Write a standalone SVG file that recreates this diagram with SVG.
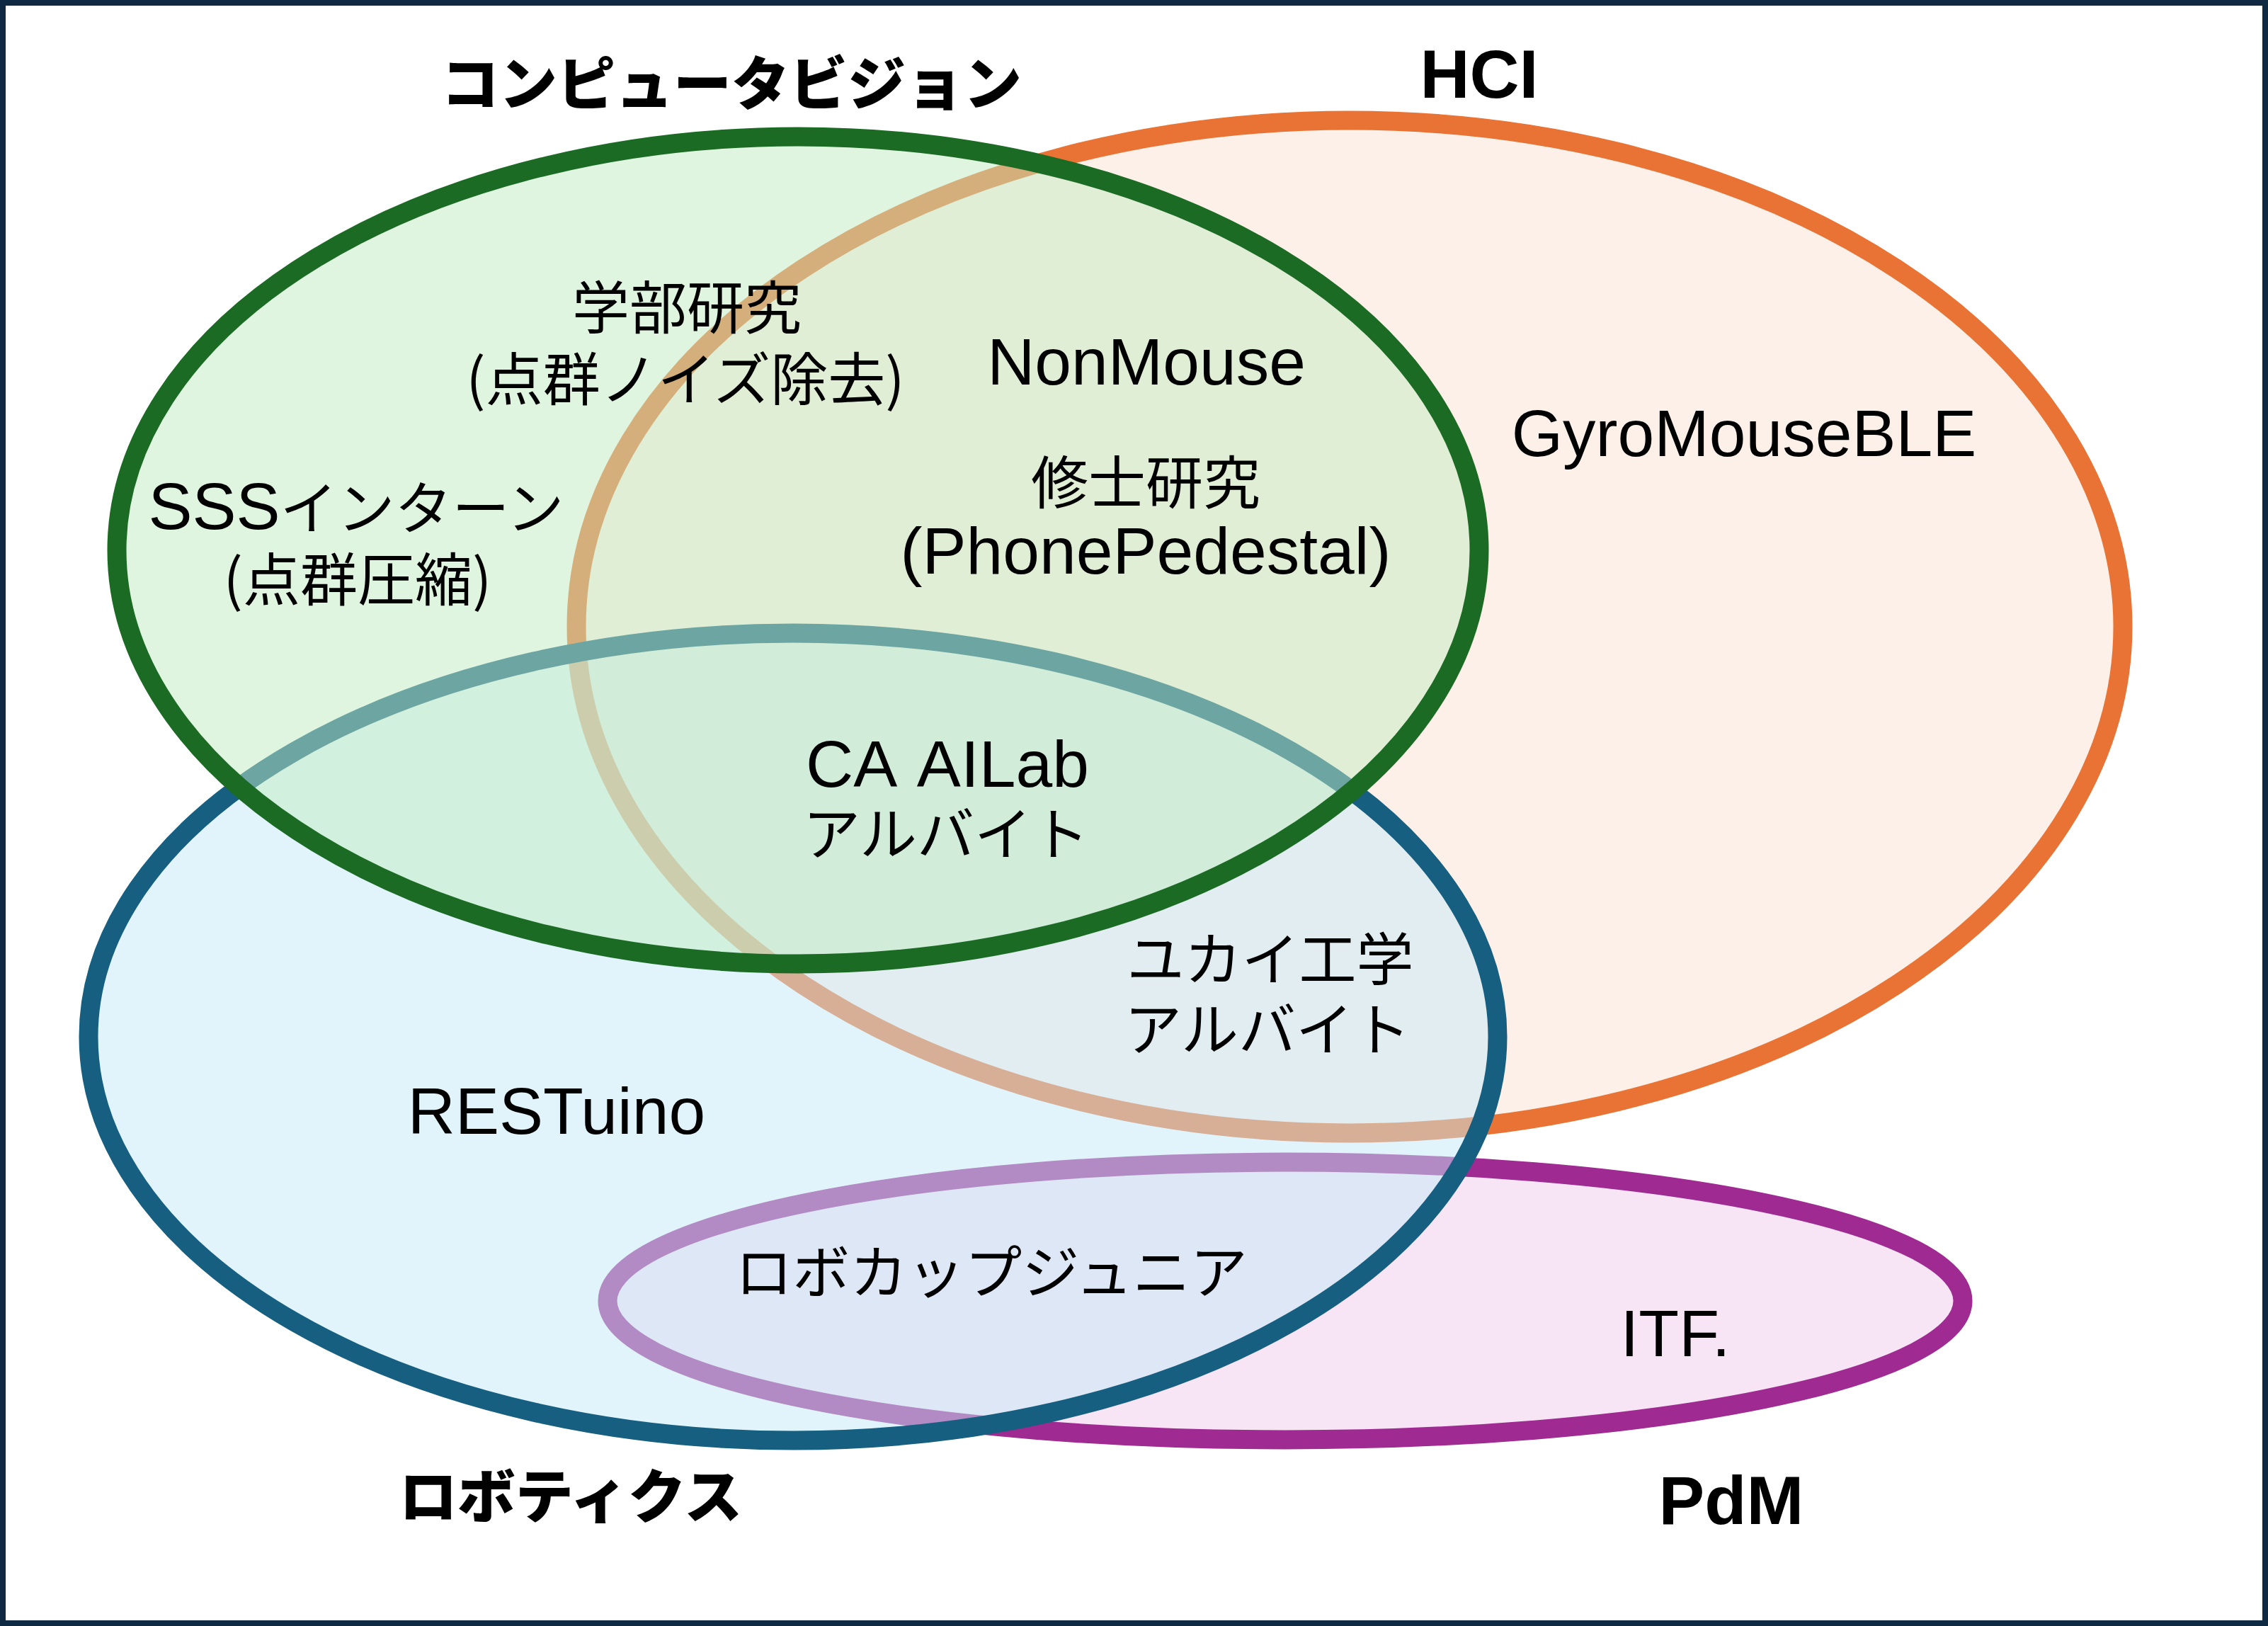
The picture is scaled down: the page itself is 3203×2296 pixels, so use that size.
<svg xmlns="http://www.w3.org/2000/svg" width="3203" height="2296" viewBox="0 0 3203 2296">
<style>
.set{fill-opacity:0.5;stroke-width:27}
.lat{font-family:"Liberation Sans","Noto Sans CJK JP",sans-serif;font-size:93px;fill:#000;text-anchor:middle}
.jp{font-family:"Noto Sans CJK JP","Liberation Sans",sans-serif;font-size:81px;fill:#000;text-anchor:middle}
.tjp{font-family:"Noto Sans CJK JP","Liberation Sans",sans-serif;font-size:82px;font-weight:900;fill:#000;text-anchor:middle}
.tlat{font-family:"Liberation Sans","Noto Sans CJK JP",sans-serif;font-size:97px;font-weight:bold;fill:#000;text-anchor:middle}
</style>
<rect x="0" y="0" width="3203" height="2296" fill="#ffffff"/>
<rect x="4" y="4" width="3195" height="2288" fill="none" stroke="#0f2942" stroke-width="8"/>
<g id="set-hci"><ellipse class="set" cx="1906" cy="885" rx="1092" ry="715" fill="#fbe1d1" stroke="#e97335"/></g>
<g id="set-pdm"><ellipse class="set" cx="1815" cy="1837" rx="957" ry="196" fill="#efc9eb" stroke="#9f2a91"/></g>
<g id="set-robotics"><ellipse class="set" cx="1120" cy="1464" rx="995" ry="570" fill="#c5e9f7" stroke="#165f80"/></g>
<g id="set-cv"><ellipse class="set" cx="1127" cy="777" rx="962" ry="584" fill="#c1ebc1" stroke="#1b6b24"/></g>
<g id="connectors"></g>
<g id="title-cv"><text class="tjp" x="1033" y="148">コンピュータビジョン</text></g>
<g id="title-hci"><text class="tlat" x="2089" y="138">HCI</text></g>
<g id="title-robotics"><text class="tjp" x="806" y="2143">ロボティクス</text></g>
<g id="title-pdm"><text class="tlat" x="2445" y="2152">PdM</text></g>
<g id="item-gakubu"><text class="jp" x="970" y="464">学部研究</text><text class="jp" x="968" y="565">(点群ノイズ除去)</text></g>
<g id="item-nonmouse"><text class="lat" x="1619" y="543">NonMouse</text></g>
<g id="item-shushi"><text class="jp" x="1618" y="711">修士研究</text><text class="lat" x="1618" y="810">(PhonePedestal)</text></g>
<g id="item-sss"><text class="lat" x="503" y="747">SSS<tspan style="font-family:'Noto Sans CJK JP','Liberation Sans',sans-serif;font-size:81px">インターン</tspan></text><text class="jp" x="505" y="848">(点群圧縮)</text></g>
<g id="item-gyromouse"><text class="lat" x="2463" y="644">GyroMouseBLE</text></g>
<g id="item-ca"><text class="lat" x="1338" y="1111" word-spacing="12">CA AILab</text><text class="jp" x="1336" y="1207">アルバイト</text></g>
<g id="item-yukai"><text class="jp" x="1794" y="1384">ユカイ工学</text><text class="jp" x="1790" y="1483">アルバイト</text></g>
<g id="item-restuino"><text class="lat" x="786" y="1601">RESTuino</text></g>
<g id="item-robocup"><text class="jp" x="1400" y="1826">ロボカップジュニア</text></g>
<g id="item-itf"><text class="lat" x="2366" y="1915">ITF.</text></g>
</svg>
